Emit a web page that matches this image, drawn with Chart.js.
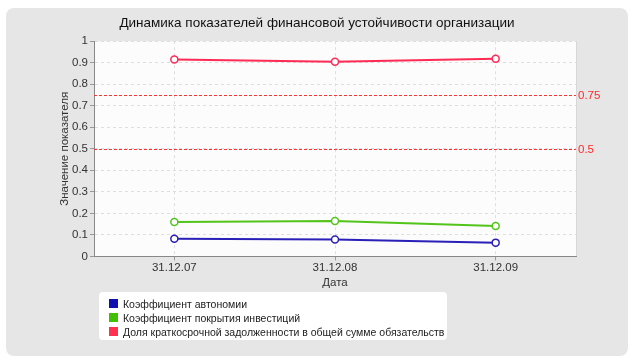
<!DOCTYPE html>
<html>
<head>
<meta charset="utf-8">
<script src="https://cdn.jsdelivr.net/npm/chart.js@4/dist/chart.umd.min.js"></script>
<style>
  body { margin: 0; background: #fff; }
  #wrap { position: relative; width: 635px; height: 362px; }
  #box { position: absolute; left: 6px; top: 8px; width: 622px; height: 348px; background: #e6e6e6; border-radius: 8px; }
  #chart { position: absolute; left: 0; top: 0; }
  #legend { position: absolute; left: 99px; top: 292px; width: 348px; height: 48px; background: #fff; border-radius: 4px;
            font-family: "Liberation Sans", sans-serif; font-size: 10.5px; color: #222; }
  #legend div { position: absolute; left: 24px; white-space: nowrap; line-height: 14px; }
  #legend span { position: absolute; left: -14px; top: 2px; width: 9px; height: 9px; }
</style>
</head>
<body>
<div id="wrap">
  <div id="box"></div>
  <canvas id="chart" width="635" height="362"></canvas>
  <div id="legend"></div>
</div>
<script>
let labels = ['31.12.07', '31.12.08', '31.12.09'];
let seriesNames = ['Коэффициент автономии', 'Коэффициент покрытия инвестиций', 'Доля краткосрочной задолженности в общей сумме обязательств'];
let autonomy = [0.082, 0.078, 0.064];
let coverage = [0.160, 0.165, 0.141];
let shortDebt = [0.915, 0.905, 0.918];
let lineColors = ['#2a20b8', '#52c41a', '#ff2a55'];
let legendColors = ['#1010b0', '#40c000', '#ff3050'];
let limits = [0.75, 0.5];

const fontName = 'Liberation Sans';

// фон области построения
const plotBg = {
  id: 'plotBg',
  beforeDraw(chart) {
    const {ctx, chartArea: a} = chart;
    ctx.save();
    ctx.fillStyle = '#fcfcfc';
    ctx.fillRect(a.left, a.top, a.right - a.left, a.bottom - a.top);
    ctx.fillStyle = '#d8d8d8';
    ctx.fillRect(a.right, a.top, 1, a.bottom - a.top);
    ctx.restore();
  }
};

// пороговые линии 0.75 и 0.5 (штрих рисуем прямоугольниками)
const limitLines = {
  id: 'limitLines',
  afterDatasetsDraw(chart) {
    const {ctx, chartArea: a, scales: {y}} = chart;
    ctx.save();
    limits.forEach(v => {
      let py = Math.round(y.getPixelForValue(v));
      ctx.fillStyle = '#ff3030';
      for (let x = a.left; x < a.right; x += 5) {
        ctx.fillRect(x, py, Math.min(3, a.right - x), 1);
      }
      ctx.fillStyle = '#ff2a2a';
      ctx.font = '11.5px "' + fontName + '"';
      ctx.textBaseline = 'middle';
      ctx.fillText(String(v), a.right + 2, py + 0.5);
    });
    ctx.restore();
  }
};

let values = [autonomy, coverage, shortDebt];

const config = {
  type: 'line',
  data: {
    labels: labels,
    datasets: values.map((d, i) => ({
      label: seriesNames[i],
      data: d,
      borderColor: lineColors[i],
      borderWidth: 2,
      pointRadius: 3.5,
      pointBorderWidth: 1.5,
      pointBackgroundColor: '#fff',
      pointBorderColor: lineColors[i],
      tension: 0
    }))
  },
  options: {
    responsive: false,
    animation: false,
    layout: { padding: { left: 58, right: 59, top: 8, bottom: 72 } },
    plugins: {
      legend: { display: false },
      tooltip: { enabled: false },
      title: {
        display: true,
        text: 'Динамика показателей финансовой устойчивости организации',
        color: '#111',
        font: { family: fontName, size: 13.5, weight: 'normal' },
        padding: { top: 7, bottom: 10 }
      }
    },
    scales: {
      x: {
        offset: true,
        grid: { offset: false, color: '#dedede', tickColor: '#999', tickLength: 4 },
        border: { color: '#888', dash: [3, 3] },
        ticks: { color: '#333', font: { family: fontName, size: 11.5 }, padding: 1 },
        title: { display: true, text: 'Дата', color: '#333', font: { family: fontName, size: 11.5 }, padding: 0 }
      },
      y: {
        min: 0,
        max: 1,
        ticks: {
          stepSize: 0.1,
          color: '#333',
          font: { family: fontName, size: 11.5 },
          padding: 2,
          callback: v => String(Number(v.toFixed(1)))
        },
        grid: { color: '#dedede', tickColor: '#999', tickLength: 4 },
        border: { color: '#888', dash: [3, 3] },
        title: { display: true, text: 'Значение показателя', color: '#333', font: { family: fontName, size: 11.5 }, padding: 0 },
        afterFit(scale) { scale.width = 36; }
      }
    }
  },
  plugins: [plotBg, limitLines]
};

const myChart = new Chart(document.getElementById('chart'), config);

// легенда
const legend = document.getElementById('legend');
seriesNames.forEach((name, i) => {
  let row = document.createElement('div');
  row.style.top = (5 + i * 14) + 'px';
  row.innerHTML = `<span style="background:${legendColors[i]}"></span>${name}`;
  legend.appendChild(row);
});
</script>
</body>
</html>
